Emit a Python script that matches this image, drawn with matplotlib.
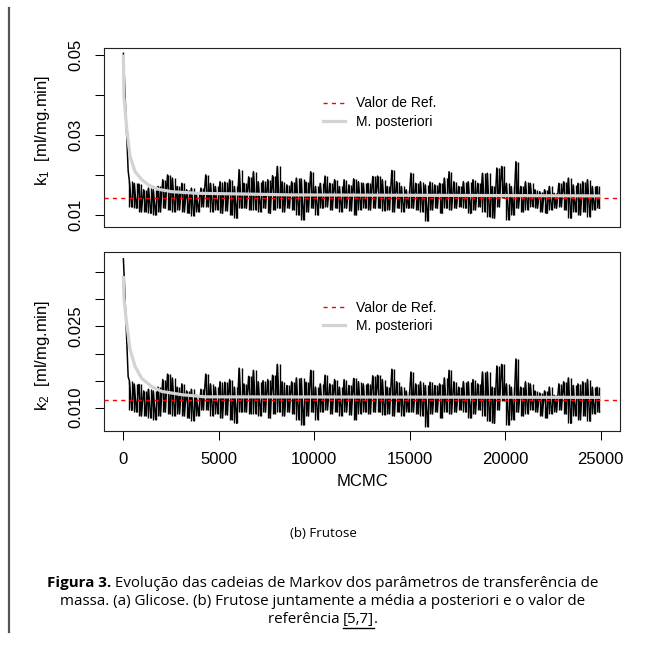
import matplotlib
matplotlib.use('Agg')
import matplotlib.pyplot as plt
from matplotlib.lines import Line2D

# ---------------- data ----------------
bin_start = list(range(250, 25000, 250))          # 250-iteration bins of the chain
burn_iter = [0, 50, 100, 150, 200, 250]
k1_burn = [0.0503, 0.0445, 0.0385, 0.0327, 0.0268, 0.0210]
k2_burn = [0.0375, 0.0335, 0.0290, 0.0245, 0.0200, 0.0157]

k1_hi = [0.0185, 0.0179, 0.0177, 0.0163, 0.0167, 0.0163, 0.0171, 0.0188, 0.0200, 0.0192,
         0.0171, 0.0179, 0.0163, 0.0167, 0.0154, 0.0167, 0.0200, 0.0179, 0.0171, 0.0183,
         0.0182, 0.0188, 0.0171, 0.0213, 0.0179, 0.0195, 0.0208, 0.0183, 0.0185, 0.0188,
         0.0198, 0.0221, 0.0183, 0.0175, 0.0183, 0.0192, 0.0190, 0.0182, 0.0208, 0.0171,
         0.0179, 0.0197, 0.0179, 0.0188, 0.0171, 0.0188, 0.0175, 0.0190, 0.0183, 0.0179,
         0.0179, 0.0196, 0.0197, 0.0188, 0.0171, 0.0211, 0.0183, 0.0171, 0.0163, 0.0204,
         0.0179, 0.0183, 0.0175, 0.0182, 0.0175, 0.0179, 0.0192, 0.0208, 0.0183, 0.0171,
         0.0183, 0.0183, 0.0188, 0.0179, 0.0204, 0.0204, 0.0171, 0.0217, 0.0221, 0.0179,
         0.0171, 0.0233, 0.0171, 0.0183, 0.0179, 0.0163, 0.0158, 0.0163, 0.0171, 0.0154,
         0.0179, 0.0183, 0.0192, 0.0175, 0.0179, 0.0183, 0.0188, 0.0171, 0.0171]
k1_lo = [0.0120, 0.0117, 0.0108, 0.0108, 0.0104, 0.0100, 0.0108, 0.0117, 0.0113, 0.0108,
         0.0113, 0.0108, 0.0104, 0.0098, 0.0108, 0.0121, 0.0121, 0.0108, 0.0113, 0.0104,
         0.0111, 0.0100, 0.0092, 0.0117, 0.0117, 0.0113, 0.0113, 0.0108, 0.0117, 0.0104,
         0.0113, 0.0117, 0.0108, 0.0117, 0.0113, 0.0100, 0.0088, 0.0108, 0.0117, 0.0100,
         0.0117, 0.0121, 0.0113, 0.0117, 0.0108, 0.0117, 0.0111, 0.0100, 0.0113, 0.0117,
         0.0113, 0.0117, 0.0117, 0.0111, 0.0113, 0.0108, 0.0117, 0.0108, 0.0117, 0.0117,
         0.0113, 0.0108, 0.0085, 0.0113, 0.0117, 0.0104, 0.0117, 0.0113, 0.0117, 0.0121,
         0.0117, 0.0104, 0.0113, 0.0121, 0.0108, 0.0096, 0.0092, 0.0121, 0.0142, 0.0088,
         0.0100, 0.0117, 0.0108, 0.0113, 0.0121, 0.0117, 0.0108, 0.0104, 0.0113, 0.0117,
         0.0121, 0.0113, 0.0092, 0.0108, 0.0100, 0.0108, 0.0096, 0.0113, 0.0117]

k2_hi = [0.0150, 0.0144, 0.0143, 0.0131, 0.0134, 0.0131, 0.0138, 0.0152, 0.0162, 0.0155,
         0.0138, 0.0144, 0.0131, 0.0134, 0.0123, 0.0134, 0.0162, 0.0144, 0.0138, 0.0148,
         0.0147, 0.0152, 0.0138, 0.0173, 0.0144, 0.0158, 0.0169, 0.0148, 0.0150, 0.0152,
         0.0160, 0.0180, 0.0148, 0.0141, 0.0148, 0.0155, 0.0154, 0.0147, 0.0169, 0.0138,
         0.0144, 0.0160, 0.0144, 0.0152, 0.0138, 0.0152, 0.0141, 0.0154, 0.0148, 0.0144,
         0.0144, 0.0159, 0.0160, 0.0152, 0.0138, 0.0171, 0.0148, 0.0138, 0.0131, 0.0166,
         0.0144, 0.0148, 0.0141, 0.0147, 0.0141, 0.0144, 0.0155, 0.0169, 0.0148, 0.0138,
         0.0148, 0.0148, 0.0152, 0.0144, 0.0166, 0.0166, 0.0138, 0.0177, 0.0180, 0.0144,
         0.0138, 0.0190, 0.0138, 0.0148, 0.0144, 0.0131, 0.0127, 0.0131, 0.0138, 0.0123,
         0.0144, 0.0148, 0.0155, 0.0141, 0.0144, 0.0148, 0.0152, 0.0138, 0.0138]
k2_lo = [0.0095, 0.0092, 0.0085, 0.0085, 0.0081, 0.0078, 0.0085, 0.0092, 0.0089, 0.0085,
         0.0089, 0.0085, 0.0081, 0.0076, 0.0085, 0.0096, 0.0096, 0.0085, 0.0089, 0.0081,
         0.0087, 0.0078, 0.0071, 0.0092, 0.0092, 0.0089, 0.0089, 0.0085, 0.0092, 0.0081,
         0.0089, 0.0092, 0.0085, 0.0092, 0.0089, 0.0078, 0.0068, 0.0085, 0.0092, 0.0078,
         0.0092, 0.0096, 0.0089, 0.0092, 0.0085, 0.0092, 0.0087, 0.0078, 0.0089, 0.0092,
         0.0089, 0.0092, 0.0092, 0.0087, 0.0089, 0.0085, 0.0092, 0.0085, 0.0092, 0.0092,
         0.0089, 0.0085, 0.0065, 0.0089, 0.0092, 0.0081, 0.0092, 0.0089, 0.0092, 0.0096,
         0.0092, 0.0081, 0.0089, 0.0096, 0.0085, 0.0075, 0.0071, 0.0096, 0.0113, 0.0068,
         0.0078, 0.0092, 0.0085, 0.0089, 0.0096, 0.0092, 0.0085, 0.0081, 0.0089, 0.0092,
         0.0096, 0.0089, 0.0071, 0.0085, 0.0078, 0.0085, 0.0075, 0.0089, 0.0092]

post1_iter = [0, 30, 175, 351, 613, 962, 1310, 1834, 2533, 3930, 6550, 8730, 25000]
k1_post = [0.0500, 0.0395, 0.0315, 0.0246, 0.0208, 0.0188, 0.0175, 0.0164, 0.0158,
           0.0154, 0.0152, 0.0150, 0.01475]
post2_iter = [0, 30, 124, 351, 613, 961, 1485, 2010, 3060, 4280, 25000]
k2_post = [0.0343, 0.0303, 0.0269, 0.0207, 0.0176, 0.0154, 0.0139, 0.0130, 0.0124,
           0.0120, 0.0119]

k1_ref = 0.0142
k2_ref = 0.0114

x_ticks = [0, 5000, 10000, 15000, 20000, 25000]
x_labels = ['0', '5000', '10000', '15000', '20000', '25000']
y1_ticks = [0.01, 0.02, 0.03, 0.04, 0.05]
y1_labels = ['0.01', '', '0.03', '', '0.05']
y2_ticks = [0.010, 0.015, 0.020, 0.025, 0.030, 0.035]
y2_labels = ['0.010', '', '', '0.025', '', '']
legend_labels = ['Valor de Ref.', 'M. posteriori']
ylab1 = r'k$_{\mathregular{1}}$  [ml/mg.min]'
ylab2 = r'k$_{\mathregular{2}}$  [ml/mg.min]'
xlab = 'MCMC'
subcaption = '(b) Frutose'
cap_bold = 'Figura 3.'
cap_line1 = ' Evolução das cadeias de Markov dos parâmetros de transferência de'
cap_line2 = 'massa. (a) Glicose. (b) Frutose juntamente a média a posteriori e o valor de'
cap_line3a = 'referência '
cap_line3b = '[5,7]'
cap_line3c = '.'

# ---------------- figure ----------------
plt.rcParams['font.family'] = ['Liberation Sans', 'DejaVu Sans']
plt.rcParams['mathtext.fontset'] = 'custom'
plt.rcParams['mathtext.rm'] = 'Liberation Sans'
plt.rcParams['mathtext.it'] = 'Liberation Sans:italic'

W, H = 645, 648
fig = plt.figure(figsize=(W / 100, H / 100), dpi=100)


def rect(l, t, r, b):
    return [l / W, 1 - b / H, (r - l) / W, (b - t) / H]


ax1 = fig.add_axes(rect(104.3, 47.7, 619.7, 227))
ax2 = fig.add_axes(rect(104.3, 252.3, 619.7, 431))


def trace_xy(bx, by, hi, lo):
    xs, ys = list(bx), list(by)
    for s, h, l in zip(bin_start, hi, lo):
        xs += [s + 62.5, s + 187.5]
        ys += [h, l]
    return xs, ys


RED_DASH = (0, (3, 3))
GREY = '#d3d3d3'

panels = [
    (ax1, k1_burn, k1_hi, k1_lo, post1_iter, k1_post, k1_ref, (0.0070, 0.0517), y1_ticks, y1_labels),
    (ax2, k2_burn, k2_hi, k2_lo, post2_iter, k2_post, k2_ref, (0.00569, 0.0387), y2_ticks, y2_labels),
]
for ax, burn, hi, lo, piter, post, ref, ylim, yt, yl in panels:
    xs, ys = trace_xy(burn_iter, burn, hi, lo)
    ax.plot(xs, ys, color='black', lw=1.1, zorder=2)
    xa = [s + 62.5 for s in bin_start]
    xb = [s + 187.5 for s in bin_start]
    ax.vlines(xa, lo, hi, color='black', lw=1.0, zorder=2)
    ax.vlines(xb, lo, hi, color='black', lw=1.0, zorder=2)
    ax.plot(piter, post, color=GREY, lw=2.3, zorder=3, solid_capstyle='butt')
    ax.axhline(ref, color='red', lw=1.0, ls=RED_DASH, zorder=4)
    ax.set_xlim(-1000, 26000)
    ax.set_ylim(*ylim)
    ax.set_yticks(yt)
    ax.set_yticklabels(yl)
    ax.tick_params(axis='y', labelrotation=90, length=6.8, width=0.75, pad=8, labelsize=12)
    for lab in ax.get_yticklabels():
        lab.set_va('center')
    for sp in ax.spines.values():
        sp.set_linewidth(0.8)
        sp.set_color('#222222')
    handles = [Line2D([], [], color='red', lw=1.0, ls=RED_DASH),
               Line2D([], [], color=GREY, lw=2.3)]
    ax.legend(handles, legend_labels, loc='upper left', bbox_to_anchor=(0.424, 0.728),
              frameon=False, fontsize=10, handlelength=1.6, handletextpad=0.8,
              labelspacing=0.3, borderpad=0, borderaxespad=0)

ax1.set_xticks([])
ax2.set_xticks(x_ticks)
ax2.set_xticklabels(x_labels)
ax2.tick_params(axis='x', length=6.8, width=0.75, pad=8, labelsize=12)

fig.text(362 / W, 1 - 482 / H, xlab, ha='center', va='center', fontsize=12)
fig.text(43 / W, 1 - 130 / H, ylab1, ha='center', va='center', rotation=90, fontsize=12)
fig.text(43 / W, 1 - 355 / H, ylab2, ha='center', va='center', rotation=90, fontsize=12)

# ---------------- caption ----------------
CAP = ['Open Sans', 'Noto Sans', 'DejaVu Sans']
CS_SUB = 9.6
CS = 10.9
fig.text(323 / W, 1 - 537 / H, subcaption, ha='center', va='baseline', fontsize=CS_SUB, family=CAP)

renderer = fig.canvas.get_renderer()


def width_px(s, **kw):
    t = fig.text(0, 0, s, fontsize=CS, family=CAP, **kw)
    w = t.get_window_extent(renderer).width
    t.remove()
    return w


cx = 323
# line 1
wb = width_px(cap_bold, fontweight='bold')
w1 = width_px(cap_line1)
x0 = cx - (wb + w1) / 2
y1 = 1 - 587 / H
fig.text(x0 / W, y1, cap_bold, fontsize=CS, family=CAP, fontweight='bold', va='baseline')
fig.text((x0 + wb) / W, y1, cap_line1, fontsize=CS, family=CAP, va='baseline')
# line 2
fig.text(cx / W, 1 - 605 / H, cap_line2, fontsize=CS, family=CAP, ha='center', va='baseline')
# line 3
wa = width_px(cap_line3a)
wbk = width_px(cap_line3b)
wc = width_px(cap_line3c)
x3 = cx - (wa + wbk + wc) / 2
y3 = 1 - 623 / H
fig.text(x3 / W, y3, cap_line3a, fontsize=CS, family=CAP, va='baseline')
fig.text((x3 + wa) / W, y3, cap_line3b, fontsize=CS, family=CAP, va='baseline')
fig.text((x3 + wa + wbk) / W, y3, cap_line3c, fontsize=CS, family=CAP, va='baseline')
fig.add_artist(Line2D([(x3 + wa) / W, (x3 + wa + wbk) / W], [1 - 628 / H, 1 - 628 / H],
                      color='black', lw=1.0))

# left page rule
fig.add_artist(Line2D([9 / W, 9 / W], [1 - 8 / H, 1 - 632 / H], color='#555555', lw=1.6))

fig.savefig('out.png', dpi=100)
